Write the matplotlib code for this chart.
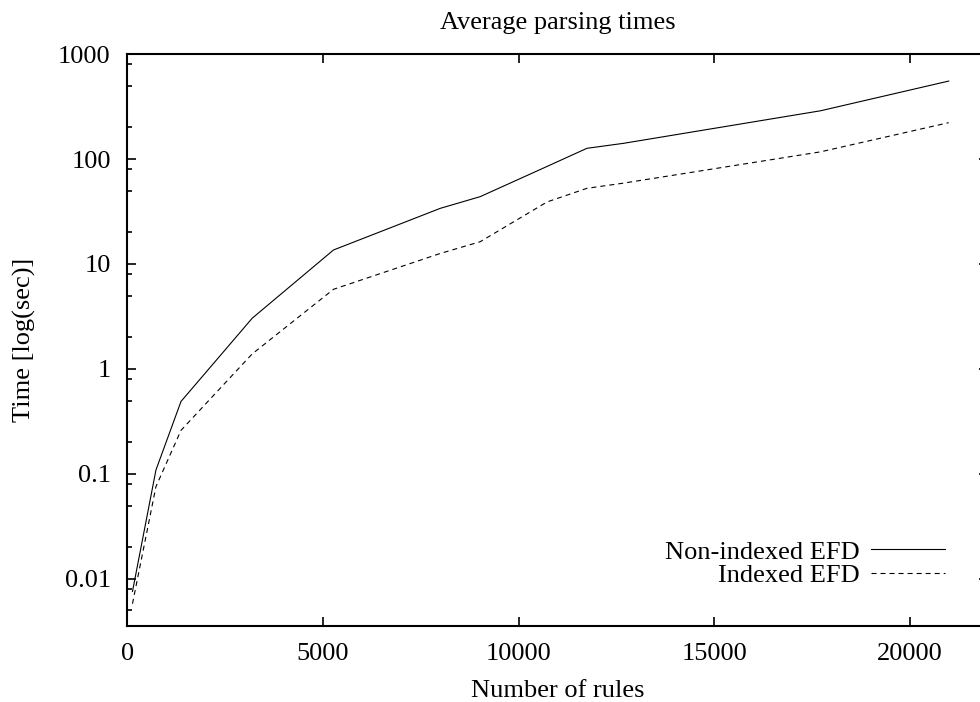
import matplotlib
matplotlib.use("Agg")
import matplotlib.pyplot as plt
from matplotlib.ticker import LogLocator, FuncFormatter, NullFormatter

plt.rcParams["font.family"] = ["Liberation Serif", "DejaVu Serif"]
plt.rcParams["font.size"] = 19
plt.rcParams["lines.scale_dashes"] = False

# rules vs. average parsing time (sec)
rules = [130, 730, 1370, 3190, 5270, 8000, 9020, 10730, 11750, 12680, 17720, 21000]
non_indexed = [0.0076, 0.109, 0.49, 3.04, 13.6, 33.9, 43.8, 85, 126.5, 141, 288, 553]
indexed = [0.0058, 0.0757, 0.26, 1.39, 5.74, 12.6, 16.3, 39, 52.6, 58.9, 117, 222]

fig = plt.figure(figsize=(9.8, 7.02), dpi=100)
ax = fig.add_axes([0.130, 0.1083, 0.878, 0.8147])

ax.plot(rules, non_indexed, color="black", lw=0.8, label="Non-indexed EFD")
ax.plot(rules, indexed, color="black", lw=0.8, dashes=(3.6, 2.9), label="Indexed EFD")

ax.set_yscale("log")
ax.set_xlim(0, 22000)
ax.set_ylim(0.00356, 1000)
ax.set_xticks([0, 5000, 10000, 15000, 20000])
ax.yaxis.set_major_locator(LogLocator(base=10, numticks=10))
ax.yaxis.set_minor_locator(LogLocator(base=10, subs=[2, 5, 8], numticks=10))
ax.yaxis.set_major_formatter(FuncFormatter(lambda v, p: "%g" % v))
ax.yaxis.set_minor_formatter(NullFormatter())

ax.tick_params(which="both", direction="in", top=True, right=True, width=1.2)
ax.tick_params(which="major", length=6.5, pad=12)
ax.tick_params(which="minor", length=3.5)
for s in ax.spines.values():
    s.set_linewidth(1.5)

ax.set_title("Average parsing times", fontsize=19, pad=18)
ax.set_xlabel("Number of rules", labelpad=11)
ax.set_ylabel("Time [log(sec)]", labelpad=16)

ax.legend(loc="lower right", bbox_to_anchor=(0.965, 0.045), frameon=False,
          markerfirst=False, handlelength=2.8, handletextpad=0.4,
          labelspacing=0.0, borderpad=0)

fig.savefig("out.png", dpi=100)
